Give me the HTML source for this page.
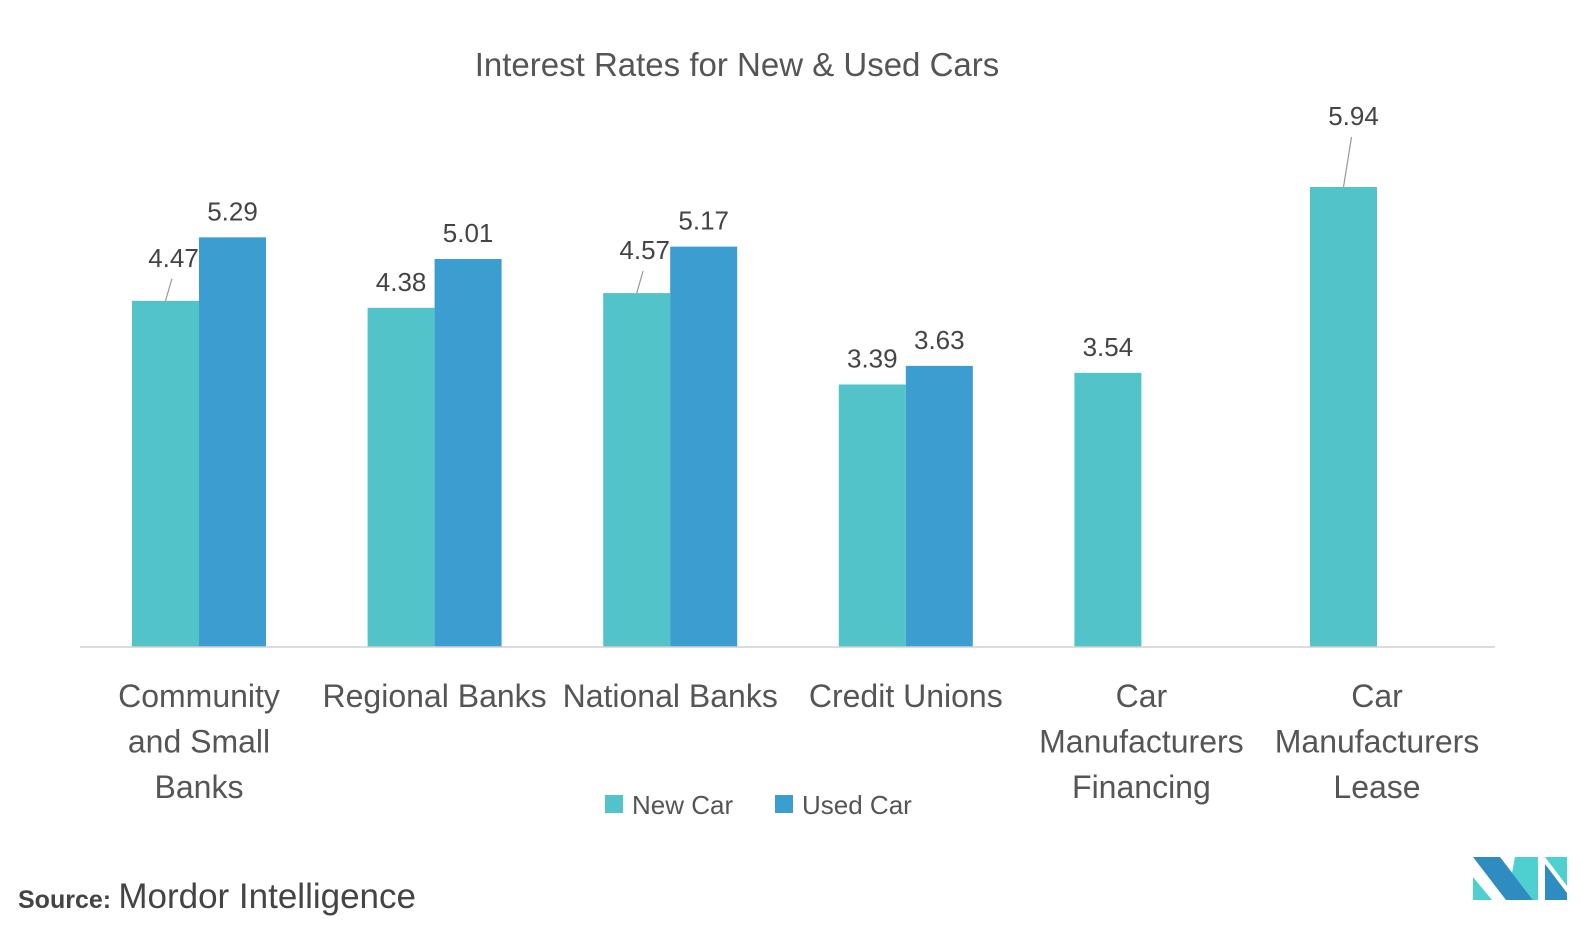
<!DOCTYPE html>
<html><head><meta charset="utf-8"><style>
body{margin:0;background:#fff;width:1583px;height:950px;overflow:hidden;font-family:"Liberation Sans",sans-serif}
</style></head><body>
<svg width="1583" height="950" style="position:absolute;left:0;top:0">
<text x="737" y="76" text-anchor="middle" font-size="33" fill="#555">Interest Rates for New &amp; Used Cars</text>
<g id="bars"></g>
<line x1="80" y1="647" x2="1495" y2="647" stroke="#d0d0d0" stroke-width="1.5"/>
<g id="xl" font-size="32" fill="#555" text-anchor="middle"></g>
<g font-size="26" fill="#555">
<rect x="605" y="795" width="18" height="18" fill="#52c3c8"/>
<text x="632" y="814">New Car</text>
<rect x="775" y="795" width="18" height="18" fill="#3b9dd0"/>
<text x="802" y="814">Used Car</text>
</g>
<text x="18" y="908" font-size="26" fill="#444"><tspan font-weight="bold" font-size="25">Source:</tspan> <tspan font-size="35">Mordor Intelligence</tspan></text>
<g>
<polygon points="1473,877 1473,900 1492,900" fill="#4ecfd0"/>
<polygon points="1473,857 1500,857 1533,900 1506,900" fill="#2e8cc0"/>
<polygon points="1515,857 1538,857 1538,900 1533,900 1512,873" fill="#4ecfd0"/>
<polygon points="1545,857 1567,857 1567,886" fill="#4ecfd0"/>
<polygon points="1545,864 1567,893 1567,900 1545,900" fill="#2e8cc0"/>
</g>
</svg>
<script>
const categories=[["Community","and Small","Banks"],["Regional Banks"],["National Banks"],["Credit Unions"],["Car","Manufacturers","Financing"],["Car","Manufacturers","Lease"]];
const newCar=[4.47,4.38,4.57,3.39,3.54,5.94];
const usedCar=[5.29,5.01,5.17,3.63,null,null];
const base=647,scale=77.44,x0=199,step=235.6,bw=67;
const y=v=>base-v*scale;
const g=document.getElementById('bars'),xl=document.getElementById('xl');
const NS='http://www.w3.org/2000/svg';
function mk(t,a,p){const e=document.createElementNS(NS,t);for(const k in a)e.setAttribute(k,a[k]);p.appendChild(e);return e;}
const leader={0:[8,-22],2:[8,-22],5:[10,-50]};
categories.forEach((c,i)=>{
 const cx=x0+step*i;
 c.forEach((l,j)=>{const t=mk('text',{x:cx,y:707+j*45.5},xl);t.textContent=l;
 
 });
 [[newCar[i],cx-bw,'#52c3c8','new'],[usedCar[i],cx,'#3b9dd0','used']].forEach(([v,bx,col,s])=>{
  if(v==null)return;
  const r=mk('rect',{x:bx,y:y(v),width:bw,height:v*scale,fill:col},g);
  
  
  let lx=bx+bw/2,ly=y(v)-17;
  if(s==='new'&&leader[i]){const [dx,dy]=leader[i];
   const ln=mk('line',{x1:lx,y1:y(v),x2:lx+dx*0.8,y2:y(v)+dy,stroke:'#999','stroke-width':1.2},g);
   
   
   lx+=dx;ly=y(v)+dy-12;}
  const t=mk('text',{x:lx,y:ly,'text-anchor':'middle','font-size':26,fill:'#444'},g);
  t.textContent=v.toFixed(2);
  
  
 });
});
</script>
</body></html>
